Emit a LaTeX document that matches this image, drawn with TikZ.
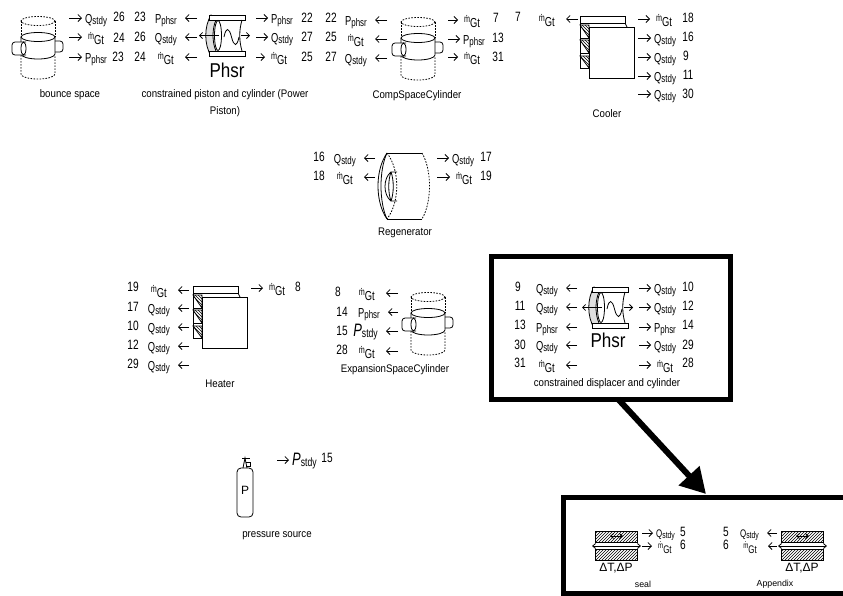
\documentclass[tikz,border=0pt]{standalone}
\usepackage{fontspec}
\setmainfont{Liberation Sans}
\newfontfamily\narrowfont[FakeStretch=0.72]{Liberation Sans}
\newfontfamily\numfont[FakeStretch=0.75]{Liberation Sans}
\newfontfamily\phsrfont[FakeStretch=0.85]{Liberation Sans}
\newfontfamily\capfont[FakeStretch=0.88]{Liberation Sans}
\usetikzlibrary{arrows.meta, patterns}

\newcommand{\lblbig}{13}
\newcommand{\lblsub}{11}
\newcommand{\lblm}{10}
\newcommand{\Qstdy}{\fontsize{\lblbig}{13}\selectfont Q\raisebox{-1.5pt}{\fontsize{\lblsub}{11}\selectfont stdy}}
\newcommand{\Pphsr}{\fontsize{\lblbig}{13}\selectfont P\raisebox{-1.5pt}{\fontsize{\lblsub}{11}\selectfont phsr}}
\newcommand{\mGt}{\hspace*{3pt}\raisebox{2.5pt}{\fontsize{\lblm}{10}\selectfont\makebox[0pt][l]{\hspace{1.6pt}\raisebox{6.5pt}{.}}m}\raisebox{-2.5pt}{\fontsize{\lblbig}{13}\selectfont Gt}\hspace*{3pt}}
\newcommand{\Pstdy}{{\fontsize{18}{18}\selectfont\itshape P}\raisebox{-1.5pt}{\fontsize{12}{12}\selectfont stdy}}

\begin{document}
\begin{tikzpicture}[
        x=1pt, y=-1pt,
        rlbl/.style={inner sep=0pt, anchor=base west, font=\narrowfont},
        llbl/.style={inner sep=0pt, anchor=base east, font=\narrowfont},
        tiny lbl/.style={font=\narrowfont\def\lblbig{11}\def\lblsub{9.5}\def\lblm{8.5}},
        num/.style={inner sep=0pt, font=\numfont\fontsize{13.5}{13.5}\selectfont},
        caption/.style={inner sep=0pt, align=center, font=\capfont\fontsize{11}{17}\selectfont},
        smallcap/.style={inner sep=0pt, font=\fontsize{8.8}{10}\selectfont},
        bigtext/.style={inner sep=0pt, font=\phsrfont\fontsize{20}{20}\selectfont},
        deltatext/.style={inner sep=0pt, font=\fontsize{12}{12}\selectfont},
        rarrow/.style={-{Straight Barb[length=3.5pt,width=7pt]}, line width=0.8pt, shorten >=3pt},
        larrow/.style={-{Straight Barb[length=3.5pt,width=7pt]}, line width=0.8pt, shorten >=8pt},
        thin arrow/.style={-{Straight Barb[length=3pt,width=6pt]}, line width=0.8pt},
        part/.style={draw, line width=0.8pt},
        dashln/.style={draw, line width=0.8pt, dash pattern=on 1.6pt off 1.4pt},
        hatchbox/.style={draw, line width=0.8pt, pattern=north east lines},
        heavy/.style={draw, line width=5pt, inner sep=0pt},
        bigarrow/.style={-{Triangle[length=25pt,width=27pt]}, line width=6pt},
        gascyl/.pic={
            \draw[dashln] (0,0) ellipse (17 and 4.5);
            \draw[dashln] (-17,0) -- (-17,16);
            \draw[dashln] (17,0) -- (17,16);
            \draw[dashln] (-17,34) -- (-17,53) arc[start angle=180, end angle=0, x radius=17, y radius=5] -- (17,34);
            \draw[part] (0,16) ellipse (17 and 4.5);
            \draw[part] (-17,16) -- (-17,33) arc[start angle=180, end angle=0, x radius=17, y radius=5] -- (17,16);
            \draw[part, fill=white, rounded corners=3pt] (-12,21) -- (-26,21) -- (-26,34) -- (-12,34);
            \draw[part, fill=white] (-14.5,27.5) ellipse (2.5 and 6.5);
            \draw[part, rounded corners=3pt] (17,20) -- (25,20) -- (25,31) -- (17,31);
        },
        phasorcyl/.pic={
            \draw[part, fill=gray!25] (2,0) .. controls (-5,12) and (-5,29) .. (2,41) -- (7,36) .. controls (3,27) and (3,14) .. (7,5) -- cycle;
            \draw[part, fill=white] (0,0) rectangle (36,5);
            \draw[part, fill=white] (0,36) rectangle (36,41);
            \draw[part] (9,20.5) ellipse (3.5 and 15);
            \draw[part] (33,5) .. controls (30,15) and (30,26) .. (33,36);
            \draw[part] (15,22) .. controls (17,12) and (20,12) .. (22.5,22) .. controls (25,32) and (28,32) .. (30,22);
            \draw[thin arrow] (10,20.5) -- (-10,20.5);
            \draw[thin arrow] (32,20.5) -- (41,20.5);
        },
        coolbox/.pic={
            \draw[part] (0,0) rectangle (45,7);
            \draw[part] (45,7) -- (47,11);
            \draw[part] (0,7) -- (0,52) -- (9,52);
            \draw[part, pattern=north west lines] (0,9) -- (9,9) -- (9,22) -- cycle;
            \draw[part] (0,22) -- (9,22);
            \draw[part, pattern=north west lines] (0,24) -- (9,24) -- (9,37) -- cycle;
            \draw[part] (0,37) -- (9,37);
            \draw[part, pattern=north west lines] (0,40) -- (9,40) -- (9,52) -- cycle;
            \draw[part, fill=white] (9,11) rectangle (54,62);
        },
        sealpair/.pic={
            \draw[hatchbox] (0,0) rectangle (42,11);
            \draw[hatchbox] (0,18) rectangle (42,29);
            \draw[{Straight Barb[length=3pt,width=5pt]}-{Straight Barb[length=3pt,width=5pt]}, line width=0.8pt] (15,5) -- (28,5);
            \draw[{Straight Barb[length=3pt,width=5pt]}-{Straight Barb[length=3pt,width=5pt]}, line width=0.8pt] (-3,15) -- (46,15);
        }
    ]
        \useasboundingbox (0,0) rectangle (843,595);

        % --- bounce space ---
        \pic (bouncecyl) at (38,21) {gascyl};
        \node[rlbl] (bsq) at (85,23) {\Qstdy}; \node[num] (bsqn) at (119,17) {26}; \coordinate (bsqa) at (69,18); \draw[rarrow] (bsqa) -- (bsqa -| bsq.west);
        \node[rlbl] (bsm) at (85,42) {\mGt}; \node[num] (bsmn) at (119,38) {24}; \coordinate (bsma) at (69,37); \draw[rarrow] (bsma) -- (bsma -| bsm.west);
        \node[rlbl] (bsp) at (85,62) {\Pphsr}; \node[num] (bspn) at (118,57) {23}; \coordinate (bspa) at (69,57); \draw[rarrow] (bspa) -- (bspa -| bsp.west);
        \node[caption] (bslbl) at (70,95) {bounce space};

        % --- constrained piston ---
        \pic (pistoncyl) at (209,15) {phasorcyl};
        \node[bigtext] (pistonph) at (227,70) {Phsr};
        \node[num] (plan) at (140,17) {23}; \node[llbl] (plap) at (177,23) {\Pphsr}; \coordinate (plaa) at (197,18); \draw[larrow] (plaa) -- (plaa -| plap.east);
        \node[num] (plbn) at (140,37) {26}; \node[llbl] (plbq) at (177,42) {\Qstdy}; \coordinate (plba) at (197,37); \draw[larrow] (plba) -- (plba -| plbq.east);
        \node[num] (plcn) at (140,57) {24}; \node[llbl] (plcm) at (177,62) {\mGt}; \coordinate (plca) at (197,57); \draw[larrow] (plca) -- (plca -| plcm.east);
        \node[rlbl] (prap) at (271,23) {\Pphsr}; \node[num] (pran) at (307,18) {22}; \coordinate (praa) at (256,18); \draw[rarrow] (praa) -- (praa -| prap.west);
        \node[rlbl] (prbq) at (271,42) {\Qstdy}; \node[num] (prbn) at (307,37) {27}; \coordinate (prba) at (256,37); \draw[rarrow] (prba) -- (prba -| prbq.west);
        \node[rlbl] (prcm) at (268,62) {\mGt}; \node[num] (prcn) at (307,57) {25}; \coordinate (prca) at (256,57); \draw[rarrow] (prca) -- (prca -| prcm.west);
        \node[caption] (plbl) at (225,103) {constrained piston and cylinder (Power\\Piston)};

        % --- CompSpaceCylinder ---
        \pic (compcyl) at (418,22) {gascyl};
        \node[num] (clan) at (331,18) {22}; \node[llbl] (clap) at (367,25) {\Pphsr}; \coordinate (claa) at (387,20); \draw[larrow] (claa) -- (claa -| clap.east);
        \node[num] (clbn) at (331,37) {25}; \node[llbl] (clbm) at (367,44) {\mGt}; \coordinate (clba) at (387,39); \draw[larrow] (clba) -- (clba -| clbm.east);
        \node[num] (clcn) at (331,57) {27}; \node[llbl] (clcq) at (367,63) {\Qstdy}; \coordinate (clca) at (387,58); \draw[larrow] (clca) -- (clca -| clcq.east);
        \node[rlbl] (cram) at (461,25) {\mGt}; \node[num] (cran) at (496,18) {7}; \coordinate (craa) at (448,20); \draw[rarrow] (craa) -- (craa -| cram.west);
        \node[rlbl] (crbp) at (463,44) {\Pphsr}; \node[num] (crbn) at (498,38) {13}; \coordinate (crba) at (448,39); \draw[rarrow] (crba) -- (crba -| crbp.west);
        \node[rlbl] (crcm) at (461,62) {\mGt}; \node[num] (crcn) at (498,57) {31}; \coordinate (crca) at (448,57); \draw[rarrow] (crca) -- (crca -| crcm.west);
        \node[caption] (clbl) at (417,96) {CompSpaceCylinder};

        % --- Cooler ---
        \pic (coolerbox) at (580,16) {coolbox};
        \node[num] (klan) at (518,17) {7}; \node[llbl] (klam) at (558,24) {\mGt}; \coordinate (klaa) at (578,19); \draw[larrow] (klaa) -- (klaa -| klam.east);
        \node[rlbl] (kram) at (653,24) {\mGt}; \node[num] (kran) at (688,18) {18}; \coordinate (kraa) at (638,19); \draw[rarrow] (kraa) -- (kraa -| kram.west);
        \node[rlbl] (krbq) at (654,43) {\Qstdy}; \node[num] (krbn) at (688,37) {16}; \coordinate (krba) at (638,38); \draw[rarrow] (krba) -- (krba -| krbq.west);
        \node[rlbl] (krcq) at (654,62) {\Qstdy}; \node[num] (krcn) at (686,56) {9}; \coordinate (krca) at (638,57); \draw[rarrow] (krca) -- (krca -| krcq.west);
        \node[rlbl] (krdq) at (654,81) {\Qstdy}; \node[num] (krdn) at (688,75) {11}; \coordinate (krda) at (638,76); \draw[rarrow] (krda) -- (krda -| krdq.west);
        \node[rlbl] (kreq) at (654,99) {\Qstdy}; \node[num] (kren) at (688,94) {30}; \coordinate (krea) at (638,94); \draw[rarrow] (krea) -- (krea -| kreq.west);
        \node[caption] (klbl) at (607,114) {Cooler};

        % --- Regenerator ---
        \draw[part] (387,153) -- (422,153);
        \draw[part] (387,219) -- (422,219);
        \draw[part] (387,153) .. controls (375,170) and (375,202) .. (387,219);
        \draw[part] (387,153) .. controls (379,170) and (379,202) .. (387,219);
        \draw[dashln] (387,153) .. controls (400,170) and (400,202) .. (387,219);
        \draw[dashln] (422,153) .. controls (432,170) and (432,202) .. (422,219);
        \draw[part] (397,172) -- (391,172) .. controls (383,178) and (383,195) .. (391,201) -- (397,201);
        \draw[part] (391,172) .. controls (388,180) and (388,193) .. (391,201);
        \draw[part] (391,172) .. controls (394,180) and (394,193) .. (391,201);
        \node[num] (rlan) at (319,157) {16}; \node[llbl] (rlaq) at (356,163) {\Qstdy}; \coordinate (rlaa) at (375,158); \draw[larrow] (rlaa) -- (rlaa -| rlaq.east);
        \node[num] (rlbn) at (319,176) {18}; \node[llbl] (rlbm) at (356,182) {\mGt}; \coordinate (rlba) at (375,177); \draw[larrow] (rlba) -- (rlba -| rlbm.east);
        \node[rlbl] (rraq) at (452,163) {\Qstdy}; \node[num] (rran) at (486,157) {17}; \coordinate (rraa) at (437,158); \draw[rarrow] (rraa) -- (rraa -| rraq.west);
        \node[rlbl] (rrbm) at (453,182) {\mGt}; \node[num] (rrbn) at (486,176) {19}; \coordinate (rrba) at (437,177); \draw[rarrow] (rrba) -- (rrba -| rrbm.west);
        \node[caption] (rlbl) at (405,233) {Regenerator};

        % --- Heater ---
        \pic (heaterbox) at (193,286) {coolbox};
        \node[num] (hlan) at (133,287) {19}; \node[llbl] (hlam) at (170,295) {\mGt}; \coordinate (hlaa) at (189,290); \draw[larrow] (hlaa) -- (hlaa -| hlam.east);
        \node[num] (hlbn) at (133,307) {17}; \node[llbl] (hlbq) at (170,313) {\Qstdy}; \coordinate (hlba) at (189,308); \draw[larrow] (hlba) -- (hlba -| hlbq.east);
        \node[num] (hlcn) at (133,326) {10}; \node[llbl] (hlcq) at (170,332) {\Qstdy}; \coordinate (hlca) at (189,327); \draw[larrow] (hlca) -- (hlca -| hlcq.east);
        \node[num] (hldn) at (133,345) {12}; \node[llbl] (hldq) at (170,351) {\Qstdy}; \coordinate (hlda) at (189,346); \draw[larrow] (hlda) -- (hlda -| hldq.east);
        \node[num] (hlen) at (133,364) {29}; \node[llbl] (hleq) at (170,370) {\Qstdy}; \coordinate (hlea) at (189,365); \draw[larrow] (hlea) -- (hlea -| hleq.east);
        \node[rlbl] (hram) at (266,293) {\mGt}; \node[num] (hran) at (298,287) {8}; \coordinate (hraa) at (251,288); \draw[rarrow] (hraa) -- (hraa -| hram.west);
        \node[caption] (hlbl) at (220,384) {Heater};

        % --- ExpansionSpaceCylinder ---
        \pic (expcyl) at (428,297) {gascyl};
        \node[num] (elan) at (338,292) {8}; \node[llbl] (elam) at (378,298) {\mGt}; \coordinate (elaa) at (398,293); \draw[larrow] (elaa) -- (elaa -| elam.east);
        \node[num] (elbn) at (342,312) {14}; \node[llbl] (elbp) at (380,317) {\Pphsr}; \coordinate (elba) at (398,312); \draw[larrow] (elba) -- (elba -| elbp.east);
        \node[num] (elcn) at (342,331) {15}; \node[llbl] (elcp) at (378,336) {\Pstdy}; \coordinate (elca) at (398,331); \draw[larrow] (elca) -- (elca -| elcp.east);
        \node[num] (eldn) at (342,350) {28}; \node[llbl] (eldm) at (378,356) {\mGt}; \coordinate (elda) at (398,351); \draw[larrow] (elda) -- (elda -| eldm.east);
        \node[caption] (elbl) at (395,370) {ExpansionSpaceCylinder};

        % --- constrained displacer ---
        \node[heavy, minimum width=239, minimum height=143] (dispbox) at (611,328) {};
        \pic (dispcyl) at (592,287) {phasorcyl};
        \node[bigtext] (dispph) at (608,340) {Phsr};
        \node[num] (dlan) at (518,287) {9}; \node[llbl] (dlaq) at (558,293) {\Qstdy}; \coordinate (dlaa) at (577,288); \draw[larrow] (dlaa) -- (dlaa -| dlaq.east);
        \node[num] (dlbn) at (520,306) {11}; \node[llbl] (dlbq) at (558,312) {\Qstdy}; \coordinate (dlba) at (577,307); \draw[larrow] (dlba) -- (dlba -| dlbq.east);
        \node[num] (dlcn) at (520,325) {13}; \node[llbl] (dlcp) at (558,332) {\Pphsr}; \coordinate (dlca) at (577,327); \draw[larrow] (dlca) -- (dlca -| dlcp.east);
        \node[num] (dldn) at (520,345) {30}; \node[llbl] (dldq) at (558,350) {\Qstdy}; \coordinate (dlda) at (577,345); \draw[larrow] (dlda) -- (dlda -| dldq.east);
        \node[num] (dlen) at (520,363) {31}; \node[llbl] (dlem) at (558,370) {\mGt}; \coordinate (dlea) at (577,365); \draw[larrow] (dlea) -- (dlea -| dlem.east);
        \node[rlbl] (draq) at (654,293) {\Qstdy}; \node[num] (dran) at (688,287) {10}; \coordinate (draa) at (639,288); \draw[rarrow] (draa) -- (draa -| draq.west);
        \node[rlbl] (drbq) at (654,312) {\Qstdy}; \node[num] (drbn) at (688,306) {12}; \coordinate (drba) at (639,307); \draw[rarrow] (drba) -- (drba -| drbq.west);
        \node[rlbl] (drcp) at (654,332) {\Pphsr}; \node[num] (drcn) at (688,325) {14}; \coordinate (drca) at (639,327); \draw[rarrow] (drca) -- (drca -| drcp.west);
        \node[rlbl] (drdq) at (654,350) {\Qstdy}; \node[num] (drdn) at (688,345) {29}; \coordinate (drda) at (639,345); \draw[rarrow] (drda) -- (drda -| drdq.west);
        \node[rlbl] (drem) at (654,370) {\mGt}; \node[num] (dren) at (688,363) {28}; \coordinate (drea) at (639,365); \draw[rarrow] (drea) -- (drea -| drem.west);
        \node[caption] (dlbl) at (607,384) {constrained displacer and cylinder};

        % --- pressure source ---
        \draw[part, rounded corners=4pt] (237,468) rectangle (253,517);
        \draw[part] (242,458) -- (250,458);
        \draw[part] (243,468) -- (245,458) -- (247,468);
        \draw[part] (246,462) -- (250,462) -- (250,466) -- (246,466);
        \node[deltatext] (sourcep) at (245,490) {P};
        \node[rlbl] (srcp) at (292,465) {\Pstdy}; \node[num] (srcn) at (327,458) {15}; \coordinate (srca) at (277,460); \draw[rarrow] (srca) -- (srca -| srcp.west);
        \node[caption] (srcl) at (277,536) {pressure source};

        % --- seal and Appendix ---
        \node[heavy, minimum width=287, minimum height=96] (sealbox) at (706.5,545) {};
        \coordinate (bigtail) at (618,399);
        \coordinate (bigtip) at (706,494);
        \draw[bigarrow] (bigtail) -- (bigtip);
        \pic (sealpic) at (595,531) {sealpair};
        \node[deltatext] (sealdt) at (616,568) {ΔT,ΔP};
        \node[rlbl, tiny lbl] (slaq) at (656,537) {\Qstdy}; \node[num] (slan) at (683,532) {5}; \coordinate (slaa) at (642,533); \draw[rarrow] (slaa) -- (slaa -| slaq.west);
        \node[rlbl, tiny lbl] (slbm) at (655,551) {\mGt}; \node[num] (slbn) at (683,545) {6}; \coordinate (slba) at (642,546); \draw[rarrow] (slba) -- (slba -| slbm.west);
        \node[smallcap] (seallbl) at (643,584) {seal};
        \pic (apppic) at (781,531) {sealpair};
        \node[deltatext] (appdt) at (802,568) {ΔT,ΔP};
        \node[num] (alan) at (726,532) {5}; \node[llbl, tiny lbl] (alaq) at (759,537) {\Qstdy}; \coordinate (alaa) at (777,533); \draw[larrow] (alaa) -- (alaa -| alaq.east);
        \node[num] (albn) at (726,545) {6}; \node[llbl, tiny lbl] (albm) at (760,551) {\mGt}; \coordinate (alba) at (777,546); \draw[larrow] (alba) -- (alba -| albm.east);
        \node[smallcap] (applbl) at (775,584) {Appendix};
\end{tikzpicture}
\end{document}
